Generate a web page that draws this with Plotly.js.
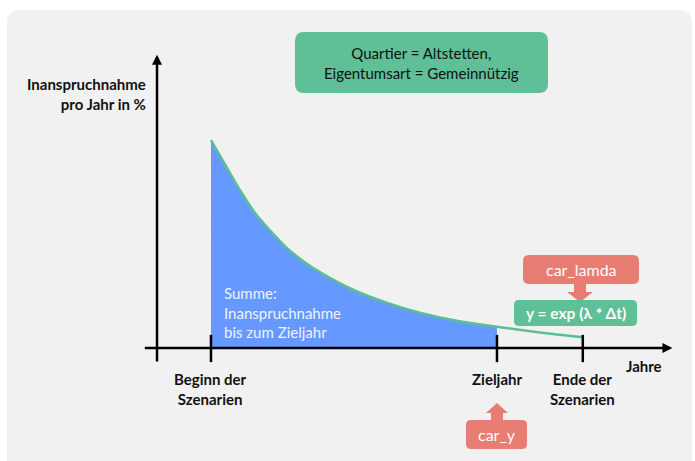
<!DOCTYPE html>
<html>
<head>
<meta charset="utf-8">
<script src="https://cdn.plot.ly/plotly-3.0.1.min.js"></script>
<style>html,body{margin:0;padding:0;background:#fff}</style>
</head>
<body>
<div id="chart" style="width:695px;height:461px"></div>
<script>
// curve: years since start of scenarios vs share in %
var years = [0, 1.5, 2.9, 4.6, 6.4, 8.1, 9.9, 11.6, 14.9, 18.4, 21.9, 25.9, 30, 34.3, 39];
var share = [100, 88, 77, 65, 55.5, 47.5, 41, 36, 28, 21.8, 17, 13, 10.2, 7.6, 5.2];

// ticks on the time axis
var tickVals = [0, 30, 39];
var tickText = ["<b>Beginn der<br>Szenarien</b>", "<b>Zieljahr</b>", "<b>Ende der<br>Szenarien</b>"];
var targetYear = 30;

var W = 695, H = 461;
function px(p) { return p / W; }
function py(p) { return 1 - p / H; }

// rounded box, given in pixels, returned as paper path
function roundRect(x0, y0, x1, y1, r) {
  return "M" + px(x0 + r) + "," + py(y0) +
    " L" + px(x1 - r) + "," + py(y0) +
    " Q" + px(x1) + "," + py(y0) + " " + px(x1) + "," + py(y0 + r) +
    " L" + px(x1) + "," + py(y1 - r) +
    " Q" + px(x1) + "," + py(y1) + " " + px(x1 - r) + "," + py(y1) +
    " L" + px(x0 + r) + "," + py(y1) +
    " Q" + px(x0) + "," + py(y1) + " " + px(x0) + "," + py(y1 - r) +
    " L" + px(x0) + "," + py(y0 + r) +
    " Q" + px(x0) + "," + py(y0) + " " + px(x0 + r) + "," + py(y0) + " Z";
}
function poly(pts) {
  return pts.map(function (p, i) { return (i ? "L" : "M") + px(p[0]) + "," + py(p[1]); }).join(" ") + " Z";
}

// 1. part of the curve up to the target year gets filled
var fillYears = years.filter(function (t) { return t <= targetYear; });
var fillShare = share.slice(0, fillYears.length);

var trace1 = {
  x: fillYears,
  y: fillShare,
  mode: "lines",
  line: { width: 0, shape: "spline" },
  fill: "tozeroy",
  fillcolor: "#6699ff",
  hoverinfo: "skip"
};

// 2. the whole curve as a line
var trace2 = {
  x: years,
  y: share,
  mode: "lines",
  line: { color: "#5cbf92", width: 2.5, shape: "spline" },
  hoverinfo: "skip"
};

var green = "#5fbf96";
var red = "#e87d74";

var shapes = [
  { type: "path", xref: "paper", yref: "paper", path: roundRect(7, 10, 692, 480, 14), fillcolor: "#f1f1f1", line: { width: 0 }, layer: "below" },
  { type: "path", xref: "paper", yref: "paper", path: roundRect(295, 32, 548, 93, 9), fillcolor: green, line: { width: 0 } },
  { type: "path", xref: "paper", yref: "paper", path: roundRect(523, 255, 639, 284, 6), fillcolor: red, line: { width: 0 } },
  { type: "path", xref: "paper", yref: "paper", path: poly([[574, 283], [586, 283], [586, 292], [593, 292], [580, 302], [567, 292], [574, 292]]), fillcolor: red, line: { width: 0 } },
  { type: "path", xref: "paper", yref: "paper", path: roundRect(514, 300, 637, 326, 5), fillcolor: green, line: { width: 0 } },
  { type: "path", xref: "paper", yref: "paper", path: roundRect(466, 420, 527, 449, 5), fillcolor: red, line: { width: 0 } },
  { type: "path", xref: "paper", yref: "paper", path: poly([[491, 421], [503, 421], [503, 413], [508, 413], [497, 403], [486, 413], [491, 413]]), fillcolor: red, line: { width: 0 } }
];

// tick marks crossing the time axis
tickVals.forEach(function (v) {
  shapes.push({ type: "line", xref: "x", yref: "y", x0: v, x1: v, y0: 6.3, y1: -6.8, line: { color: "#000", width: 2.5 } });
});

var annotations = [
  // axes with arrow heads
  { xref: "x", yref: "y", axref: "x", ayref: "y", x: -5.66, y: 141, ax: -5.66, ay: -7.2, text: "", showarrow: true, arrowhead: 2, arrowsize: 0.8, arrowwidth: 2.5, arrowcolor: "#000" },
  { xref: "x", yref: "y", axref: "x", ayref: "y", x: 48.4, y: 0, ax: -7.1, ay: 0, text: "", showarrow: true, arrowhead: 2, arrowsize: 0.8, arrowwidth: 2.5, arrowcolor: "#000" },
  { xref: "paper", yref: "paper", x: px(148), y: py(94), xanchor: "right", yanchor: "middle", align: "right", showarrow: false, text: "<b>Inanspruchnahme<br>pro Jahr in %</b>" },
  { xref: "paper", yref: "paper", x: px(644), y: py(366), xanchor: "center", yanchor: "middle", showarrow: false, text: "<b>Jahre</b>" },
  { xref: "paper", yref: "paper", x: px(421.5), y: py(63), xanchor: "center", yanchor: "middle", showarrow: false, text: "Quartier = Altstetten,<br>Eigentumsart = Gemeinnützig" },
  { xref: "paper", yref: "paper", x: px(575.5), y: py(313), xanchor: "center", yanchor: "middle", showarrow: false, text: "<b>y = exp (λ * Δt)</b>", font: { color: "#fff", size: 15.5 } },
  { xref: "paper", yref: "paper", x: px(581), y: py(269.5), xanchor: "center", yanchor: "middle", showarrow: false, text: "car_lamda", font: { color: "#fff", size: 16 } },
  { xref: "paper", yref: "paper", x: px(496.5), y: py(434.5), xanchor: "center", yanchor: "middle", showarrow: false, text: "car_y", font: { color: "#fff", size: 16 } },
  { xref: "paper", yref: "paper", x: px(222), y: py(312), xanchor: "left", yanchor: "middle", align: "left", showarrow: false, text: "Summe:<br>Inanspruchnahme<br>bis zum Zieljahr", font: { color: "#eef3ff", size: 15 } }
];

tickVals.forEach(function (v, i) {
  annotations.push({ xref: "x", yref: "paper", x: v, y: py(368), xanchor: "center", yanchor: "top", showarrow: false, text: tickText[i] });
});

var layout = {
  width: W,
  height: H,
  margin: { l: 0, r: 0, t: 0, b: 0 },
  paper_bgcolor: "#fff",
  plot_bgcolor: "rgba(0,0,0,0)",
  showlegend: false,
  font: { family: "Lato, sans-serif", size: 15, color: "#111" },
  xaxis: { range: [-22.13, 50.77], visible: false, fixedrange: true },
  yaxis: { range: [-54.33, 167.31], visible: false, fixedrange: true },
  shapes: shapes,
  annotations: annotations
};

Plotly.newPlot("chart", [trace1, trace2], layout, { staticPlot: true, displayModeBar: false });
</script>
</body>
</html>
